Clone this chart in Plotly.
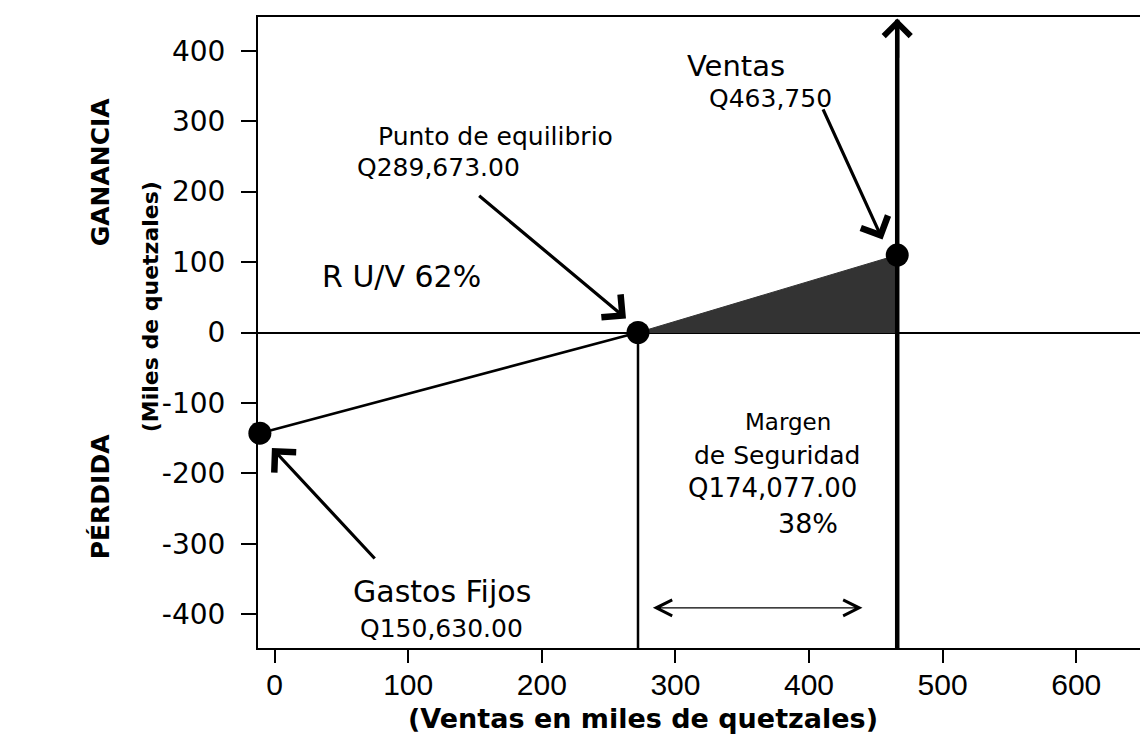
import plotly.graph_objects as go

# ---- data (thousands of quetzales) ----
x_ticks = [0, 100, 200, 300, 400, 500, 600]
x_tick_text = ["0", "100", "200", "300", "400", "500", "600"]
y_ticks = [400, 300, 200, 100, 0, -100, -200, -300, -400]
y_tick_text = ["400", "300", "200", "100", "0", "-100", "-200", "-300", "-400"]
x_range = [-12.4, 647.7]
y_range = [-448, 448]

fixed_cost = [-11, -143]      # Gastos fijos point
breakeven = [272, 0]          # Punto de equilibrio
sales = [466, 110]            # Ventas point

profit_x = [fixed_cost[0], breakeven[0]]
profit_y = [fixed_cost[1], breakeven[1]]
gain_x = [breakeven[0], sales[0], sales[0], breakeven[0]]
gain_y = [breakeven[1], sales[1], 0, breakeven[1]]

safety_arrow_x = [282, 440]
safety_arrow_y = -391

# text labels: (text, x, y, size)
labels = [
    ("Ventas", 345, 379, 29),
    ("Q463,750", 371, 332, 25),
    ("Punto de equilibrio", 165, 278, 25),
    ("Q289,673.00", 123, 234, 25),
    ("R U/V 62%", 95, 79, 30),
    ("Gastos Fijos", 125, -368, 30),
    ("Q150,630.00", 125, -420, 25),
    ("Margen", 384, -127, 23),
    ("de Seguridad", 376, -174, 25),
    ("Q174,077.00", 373, -221, 26),
    ("38%", 399, -271, 27),
]

# pointer arrows: (tail_x, tail_y, head_x, head_y)
pointers = [
    (410, 319, 455, 132),
    (152, 196, 263, 20),
    (76, -323, -2, -164),
]

font_main = "DejaVu Sans"
fig = go.Figure()

fig.add_trace(go.Scatter(x=gain_x, y=gain_y, fill="toself", fillcolor="#333333",
                         mode="lines", line=dict(color="#333333", width=1),
                         hoverinfo="skip", showlegend=False))
fig.add_trace(go.Scatter(x=profit_x, y=profit_y, mode="lines",
                         line=dict(color="black", width=2.5), showlegend=False))
fig.add_trace(go.Scatter(x=[breakeven[0], breakeven[0]], y=[breakeven[1], y_range[0]],
                         mode="lines", line=dict(color="black", width=2.5), showlegend=False))
fig.add_trace(go.Scatter(x=[sales[0], sales[0]], y=[y_range[0], y_range[1] - 4],
                         mode="lines", line=dict(color="black", width=4.5), showlegend=False))
fig.add_trace(go.Scatter(x=[fixed_cost[0], breakeven[0], sales[0]],
                         y=[fixed_cost[1], breakeven[1], sales[1]],
                         mode="markers", marker=dict(color="black", size=23),
                         cliponaxis=False, showlegend=False))

annotations = []
for text, x, y, size in labels:
    annotations.append(dict(text=text, x=x, y=y, xref="x", yref="y", showarrow=False,
                            xanchor="center", yanchor="middle",
                            font=dict(family=font_main, size=size, color="black")))
for tx, ty, hx, hy in pointers:
    annotations.append(dict(text="", x=hx, y=hy, ax=tx, ay=ty, xref="x", yref="y",
                            axref="x", ayref="y", showarrow=True, arrowhead=4,
                            arrowsize=1.8, arrowwidth=3.2, arrowcolor="black"))
# vertical sales arrow head
annotations.append(dict(text="", x=sales[0], y=y_range[1] - 2, ax=sales[0], ay=y_range[1] - 60,
                        xref="x", yref="y", axref="x", ayref="y", showarrow=True,
                        arrowhead=4, arrowsize=1.3, arrowwidth=4, arrowcolor="black"))
# safety margin double arrow
annotations.append(dict(text="", x=safety_arrow_x[1], y=safety_arrow_y, ax=safety_arrow_x[0],
                        ay=safety_arrow_y, xref="x", yref="y", axref="x", ayref="y",
                        showarrow=True, arrowhead=5, startarrowhead=5, arrowside="end+start",
                        arrowsize=2.4, startarrowsize=2.4, arrowwidth=1.3, arrowcolor="black"))
# axis titles
annotations += [
    dict(text="<b>(Ventas en miles de quetzales)</b>", x=0.436, y=-0.111, xref="paper",
         yref="paper", xanchor="center", yanchor="middle", showarrow=False,
         font=dict(family=font_main, size=27, color="black")),
    dict(text="<b>(Miles de quetzales)</b>", x=-0.1224, y=0.54, xref="paper", yref="paper",
         xanchor="center", yanchor="middle", textangle=-90, showarrow=False,
         font=dict(family=font_main, size=22, color="black")),
    dict(text="<b>GANANCIA</b>", x=-0.179, y=0.754, xref="paper", yref="paper",
         xanchor="center", yanchor="middle", textangle=-90, showarrow=False,
         font=dict(family=font_main, size=25, color="black")),
    dict(text="<b>PÉRDIDA</b>", x=-0.179, y=0.239, xref="paper", yref="paper",
         xanchor="center", yanchor="middle", textangle=-90, showarrow=False,
         font=dict(family=font_main, size=25, color="black")),
]

fig.update_layout(
    width=1140, height=743, autosize=False,
    margin=dict(l=258, r=0, t=17, b=95),
    plot_bgcolor="white", paper_bgcolor="white",
    annotations=annotations,
    xaxis=dict(range=x_range, tickvals=x_ticks, ticktext=x_tick_text, ticks="outside",
               ticklen=13, tickwidth=2, tickcolor="black", showline=True, linecolor="black",
               linewidth=2, mirror=True, showgrid=False, zeroline=False,
               tickfont=dict(family="Liberation Sans", size=30, color="black"),
               ticklabelstandoff=-4),
    yaxis=dict(range=y_range, tickvals=y_ticks, ticktext=y_tick_text, ticks="outside",
               ticklen=15, tickwidth=2, tickcolor="black", showline=True, linecolor="black",
               linewidth=2, showgrid=False, zeroline=True, zerolinecolor="black",
               zerolinewidth=1.5, tickfont=dict(family=font_main, size=28, color="black"),
               ticklabelstandoff=10),
)

fig.write_html("out.html", config={"displayModeBar": False},
               post_script="document.body.style.margin='0';document.body.style.overflow='hidden';")
